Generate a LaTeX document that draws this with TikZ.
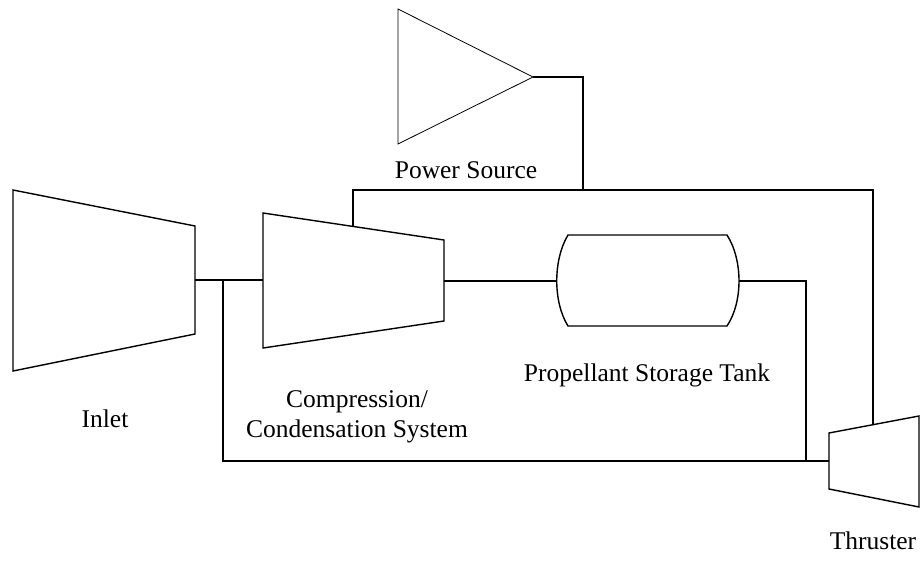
\documentclass[tikz,border=0pt]{standalone}
\usepackage{fontspec}
\setmainfont{Liberation Serif}
\begin{document}
\begin{tikzpicture}[x=1pt,y=-1pt,
  part/.style={line width=1.4pt, line join=miter},
  thinpart/.style={line width=0.8pt, line join=miter},
  pipe/.style={line width=1.4pt},
  lbl/.style={anchor=base, inner sep=0pt, font=\fontsize{25.5}{30}\selectfont}]
\useasboundingbox (0,0) rectangle (922,565);
% power source
\coordinate (psA) at (398,9);
\coordinate (psB) at (398,144);
\coordinate (psOut) at (533,77);
\draw[thinpart] (psA) -- (psB) -- (psOut) -- cycle;
% inlet
\coordinate (inA) at (13,190);
\coordinate (inB) at (13,371);
\coordinate (inC) at (195,334);
\coordinate (inD) at (195,226);
\coordinate (inOut) at (195,280);
\draw[part] (inA) -- (inB) -- (inC) -- (inD) -- cycle;
% compressor
\coordinate (coA) at (263,213);
\coordinate (coB) at (263,348);
\coordinate (coC) at (444,321);
\coordinate (coD) at (444,240);
\coordinate (coIn) at (263,280);
\coordinate (coOut) at (444,281);
\coordinate (coTop) at (353,226.4);
\draw[part] (coA) -- (coB) -- (coC) -- (coD) -- cycle;
% tank
\coordinate (tkIn) at (557,281);
\coordinate (tkOut) at (739,281);
\draw[part] (568,235) -- (727,235) .. controls (743,260) and (743,302) .. (727,326)
  -- (568,326) .. controls (553,302) and (553,260) .. (568,235) -- cycle;
% thruster
\coordinate (thA) at (829,433);
\coordinate (thB) at (829,489);
\coordinate (thC) at (919,507);
\coordinate (thD) at (919,416);
\coordinate (thIn) at (829,461);
\coordinate (thTop) at (873,424.7);
\draw[part] (thA) -- (thB) -- (thC) -- (thD) -- cycle;
% junctions
\coordinate (j1) at (223,280);
\coordinate (j2) at (583,190);
% connectors
\draw[pipe] (inOut) -- (coIn);
\draw[pipe] (j1) |- (thIn);
\draw[pipe] (coOut) -- (tkIn);
\draw[pipe] (tkOut) -| (806,461);
\draw[pipe] (psOut) -| (j2);
\draw[pipe] (coTop) |- (873,190) -- (thTop);
% labels
\node[lbl] (lps) at (466,178) {Power Source};
\node[lbl] (lpt) at (647,381) {Propellant Storage Tank};
\node[lbl] (lc1) at (357,407) {Compression/};
\node[lbl] (lc2) at (357,437) {Condensation System};
\node[lbl] (lin) at (105,427) {Inlet};
\node[lbl] (lth) at (873,549) {Thruster};
\end{tikzpicture}
\end{document}
